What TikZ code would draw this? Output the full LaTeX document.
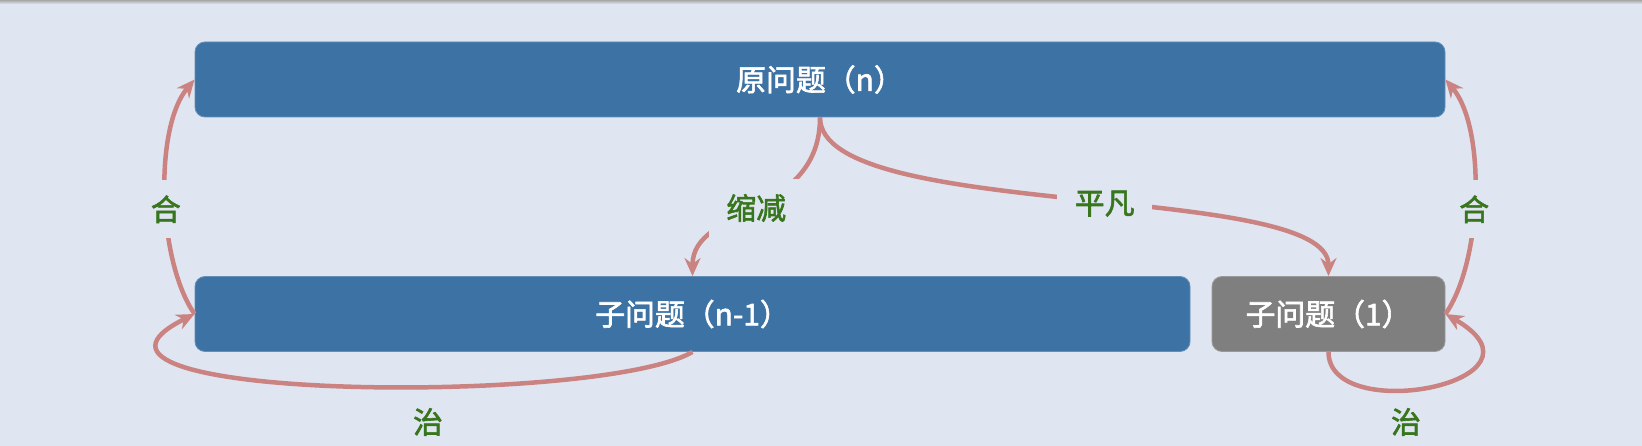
\documentclass[tikz,border=0pt]{standalone}
\usepackage{fontspec}
\setmainfont{Noto Sans CJK SC}
\newfontfamily\medfont{Noto Sans CJK SC}[FakeBold=2]
\usetikzlibrary{arrows.meta}

\definecolor{bgc}{HTML}{DFE6F1}
\definecolor{boxblue}{HTML}{3D72A4}
\definecolor{boxgrey}{HTML}{7F7F7F}
\definecolor{arrred}{HTML}{CB8381}
\definecolor{lblgreen}{HTML}{38761D}

\tikzset{
  bluebox/.style={fill=boxblue, draw=boxblue!80!white, line width=0.5pt, rounded corners=0.2cm,
    minimum height=1.5cm, text=white, font=\fontsize{17}{20}\medfont},
  greybox/.style={bluebox, fill=boxgrey, draw=boxgrey!80!white},
  lbl/.style={text=lblgreen, font=\fontsize{17}{20}\medfont},
  gaplbl/.style={lbl, fill=bgc, inner xsep=0.35cm, inner ysep=0.3cm},
  arr/.style={draw=arrred, line width=0.09cm, -{Stealth[length=0.36cm,width=0.32cm]}}
}

\begin{document}
\begin{tikzpicture}
      \fill[bgc] (0, 0) rectangle (32.84, 8.92);
      \shade[top color=black!35, bottom color=bgc] (0, 8.84) rectangle (32.84, 8.92);

      \node[bluebox, minimum width=25cm] (orig) at (16.4, 7.33) {原问题（n）};
      \node[bluebox, minimum width=19.9cm] (sub) at (13.85, 2.64) {子问题（n-1）};
      \node[greybox, minimum width=4.66cm] (base) at (26.57, 2.64) {子问题（1）};

      \draw[arr] (orig.south) .. controls +(0, -2) and +(0, 1.4) .. (sub.north) node[pos=0.5, gaplbl] {缩减};
      \draw[arr] (orig.south) .. controls +(0, -2.08) and +(0, 1.9) .. (base.north) node[pos=0.54, gaplbl] {平凡};

      \draw[arr] (sub.west) to[out=125, in=-130, looseness=0.7] node[pos=0.45, gaplbl] {合} (orig.west);
      \draw[arr] (base.east) to[out=55, in=-50, looseness=0.7] node[pos=0.45, gaplbl] {合} (orig.east);

      \draw[arr] (sub.south) .. controls +(-1.85, -1.08) and +(-3.5, -1.74) .. (sub.west);
      \draw[arr] (base.south) .. controls +(0, -1.5) and +(2.34, -1.35) .. (base.east);

      \node[lbl] (zhiL) at (8.56, 0.48) {治};
      \node[lbl] (zhiR) at (28.12, 0.48) {治};
\end{tikzpicture}
\end{document}
